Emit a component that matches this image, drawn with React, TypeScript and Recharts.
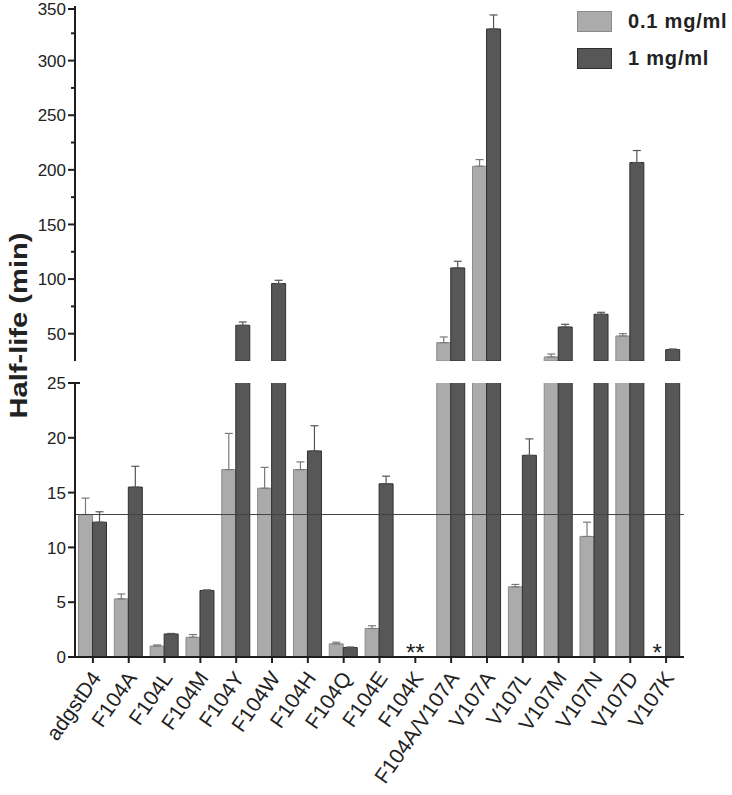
import React from 'react';
import {
  BarChart,
  Bar,
  XAxis,
  YAxis,
  ErrorBar,
  ReferenceLine,
  ReferenceDot,
  Legend,
} from 'recharts';

const mutants = [
  'adgstD4', 'F104A', 'F104L', 'F104M', 'F104Y', 'F104W', 'F104H', 'F104Q', 'F104E',
  'F104K', 'F104A/V107A', 'V107A', 'V107L', 'V107M', 'V107N', 'V107D', 'V107K',
];
// half-life (min), 0.1 mg/ml
const lowDose = [13.0, 5.3, 1.0, 1.8, 17.1, 15.4, 17.1, 1.2, 2.6, null, 41.8, 203.3, 6.4, 28.7, 11.0, 47.9, null];
const lowDoseErr = [1.5, 0.45, 0.1, 0.25, 3.3, 1.9, 0.7, 0.15, 0.25, null, 5.2, 6.1, 0.22, 2.7, 1.3, 2.1, null];
// half-life (min), 1 mg/ml
const highDose = [12.3, 15.5, 2.1, 6.07, 57.7, 95.9, 18.8, 0.86, 15.8, null, 110.2, 329, 18.4, 56.1, 67.8, 206.7, 35.4];
const highDoseErr = [0.95, 1.9, 0.05, 0.05, 3, 3, 2.3, 0.05, 0.7, null, 6.1, 12.8, 1.5, 2.5, 1.8, 11, 0.6];

const controlLevel = 13;
const notes = [
  { name: 'F104K', text: '**', series: 'both' },
  { name: 'V107K', text: '*', series: 'low' },
];
const upperTicks = [25, 50, 75, 100, 125, 150, 175, 200, 225, 250, 275, 300, 325, 350];
const lowerTicks = [0, 5, 10, 15, 20, 25];
const BREAK = 25;

const LIGHT = '#ababab';
const LIGHT_EDGE = '#8a8a8a';
const DARK = '#575757';
const DARK_EDGE = '#303030';
const AXIS = '#1e1e1e';
const FONT = '"Liberation Sans", Arial, sans-serif';

const W = 732;
const PLOT_LEFT = 75;
const PLOT_RIGHT = 48;
const UPPER_TOP = 6;
const UPPER_BOTTOM = 361;
const LOWER_TOP = 383;
const LOWER_BOTTOM = 657;
const H = 795;

const rows = mutants.map((name, i) => {
  const lo = lowDose[i];
  const hi = highDose[i];
  const loBig = lo != null && lo > BREAK;
  const hiBig = hi != null && hi > BREAK;
  return {
    name,
    loLower: lo,
    hiLower: hi,
    loLowerErr: lo != null && !loBig ? [0, lowDoseErr[i]] : undefined,
    hiLowerErr: hi != null && !hiBig ? [0, highDoseErr[i]] : undefined,
    loUpper: loBig ? lo : null,
    hiUpper: hiBig ? hi : null,
    loUpperErr: loBig ? [0, lowDoseErr[i]] : undefined,
    hiUpperErr: hiBig ? [0, highDoseErr[i]] : undefined,
  };
});

const UpperTick = (props: any) => {
  const { x, y, payload } = props;
  const v = payload.value;
  if (v === BREAK) {
    return <line x1={x - 3} x2={x + 5} y1={y} y2={y} stroke={AXIS} strokeWidth={2} />;
  }
  const major = v % 50 === 0;
  return (
    <g>
      <line x1={x - (major ? 7 : 4)} x2={x} y1={y} y2={y} stroke={AXIS} strokeWidth={2} />
      {major && (
        <text x={x - 9} y={y} dy="0.36em" textAnchor="end" fontSize={17} fill="#222" fontFamily={FONT}>
          {v}
        </text>
      )}
    </g>
  );
};

const LowerTick = (props: any) => {
  const { x, y, payload } = props;
  const v = payload.value;
  return (
    <g>
      <line x1={x - 7} x2={v === BREAK ? x + 5 : x} y1={y} y2={y} stroke={AXIS} strokeWidth={2} />
      <text x={x - 9} y={y} dy="0.36em" textAnchor="end" fontSize={17} fill="#222" fontFamily={FONT}>
        {v}
      </text>
    </g>
  );
};

const CategoryTick = (props: any) => {
  const { x, y, payload } = props;
  return (
    <g>
      <line x1={x} x2={x} y1={y} y2={y + 6} stroke={AXIS} strokeWidth={2} />
      <text
        transform={`translate(${x + 9},${y + 21}) rotate(-55)`}
        textAnchor="end"
        fontSize={21}
        fill="#222"
        fontFamily={FONT}
      >
        {payload.value}
      </text>
    </g>
  );
};

const AxisTitle = () => (
  <text
    transform={`translate(27,${(UPPER_TOP + LOWER_BOTTOM) / 2 - 6}) rotate(-90)`}
    textAnchor="middle"
    fontSize={23}
    fontWeight="bold"
    fill="#222"
    fontFamily={FONT}
    textLength={186}
    lengthAdjust="spacingAndGlyphs"
  >
    Half-life (min)
  </text>
);

const LegendBox = (props: any) => (
  <div style={{ fontFamily: FONT }}>
    {(props.payload || []).map((p: any) => (
      <div key={p.value} style={{ display: 'flex', alignItems: 'center', height: 37 }}>
        <span
          style={{
            display: 'inline-block',
            width: 33,
            height: 19,
            background: p.color,
            border: `1px solid ${p.color === LIGHT ? LIGHT_EDGE : DARK_EDGE}`,
            marginRight: 16,
          }}
        />
        <span style={{ fontSize: 20, fontWeight: 'bold', color: '#222', letterSpacing: 0.8 }}>{p.value}</span>
      </div>
    ))}
  </div>
);

const noteShape = (text: string, series: string) => (props: any) => (
  <text
    x={props.cx + (series === 'low' ? -9 : 0)}
    y={props.cy + 4}
    textAnchor="middle"
    fontSize={24}
    fill="#222"
    fontFamily={FONT}
  >
    {text}
  </text>
);

export default function App() {
  return (
    <div style={{ position: 'absolute', left: 0, top: 0, width: W, height: H, background: '#fff' }}>
      <div style={{ position: 'absolute', left: 0, top: 0 }}>
        <BarChart
          width={W}
          height={H}
          data={rows}
          margin={{ top: LOWER_TOP, right: PLOT_RIGHT, bottom: 0, left: 0 }}
          barCategoryGap={3.5}
          barGap={0}
        >
          <XAxis
            dataKey="name"
            interval={0}
            height={H - LOWER_BOTTOM}
            tickSize={0}
            tickMargin={0}
            tickLine={false}
            axisLine={{ stroke: AXIS, strokeWidth: 2 }}
            tick={<CategoryTick />}
          />
          <YAxis
            type="number"
            domain={[0, BREAK]}
            ticks={lowerTicks}
            allowDataOverflow
            width={PLOT_LEFT}
            tickSize={0}
            tickMargin={0}
            tickLine={false}
            axisLine={{ stroke: AXIS, strokeWidth: 2 }}
            tick={<LowerTick />}
            label={{ content: () => <AxisTitle /> }}
          />
          <Bar dataKey="loLower" fill={LIGHT} stroke={LIGHT_EDGE} strokeWidth={1} isAnimationActive={false}>
            <ErrorBar dataKey="loLowerErr" direction="y" width={4} stroke="#7a7a7a" strokeWidth={1.2} />
          </Bar>
          <Bar dataKey="hiLower" fill={DARK} stroke={DARK_EDGE} strokeWidth={1} isAnimationActive={false}>
            <ErrorBar dataKey="hiLowerErr" direction="y" width={4} stroke="#555" strokeWidth={1.2} />
          </Bar>
          <ReferenceLine y={controlLevel} stroke="#444" strokeWidth={1} />
          {notes.map((n) => (
            <ReferenceDot key={n.name} x={n.name} y={0} shape={noteShape(n.text, n.series)} />
          ))}
        </BarChart>
      </div>
      <div style={{ position: 'absolute', left: 0, top: 0 }}>
        <BarChart
          width={W}
          height={UPPER_BOTTOM}
          data={rows}
          margin={{ top: UPPER_TOP, right: PLOT_RIGHT, bottom: 0, left: 0 }}
          barCategoryGap={3.5}
          barGap={0}
        >
          <XAxis dataKey="name" hide />
          <YAxis
            type="number"
            domain={[BREAK, 350]}
            ticks={upperTicks}
            allowDataOverflow
            width={PLOT_LEFT}
            tickSize={0}
            tickMargin={0}
            tickLine={false}
            axisLine={{ stroke: AXIS, strokeWidth: 2 }}
            tick={<UpperTick />}
          />
          <Legend
            layout="vertical"
            align="center"
            verticalAlign="middle"
            wrapperStyle={{ left: 577, top: 3, width: 155 }}
            content={<LegendBox />}
          />
          <Bar dataKey="loUpper" name="0.1 mg/ml" fill={LIGHT} stroke={LIGHT_EDGE} strokeWidth={1} isAnimationActive={false}>
            <ErrorBar dataKey="loUpperErr" direction="y" width={4} stroke="#7a7a7a" strokeWidth={1.2} />
          </Bar>
          <Bar dataKey="hiUpper" name="1 mg/ml" fill={DARK} stroke={DARK_EDGE} strokeWidth={1} isAnimationActive={false}>
            <ErrorBar dataKey="hiUpperErr" direction="y" width={4} stroke="#555" strokeWidth={1.2} />
          </Bar>
        </BarChart>
      </div>
    </div>
  );
}
